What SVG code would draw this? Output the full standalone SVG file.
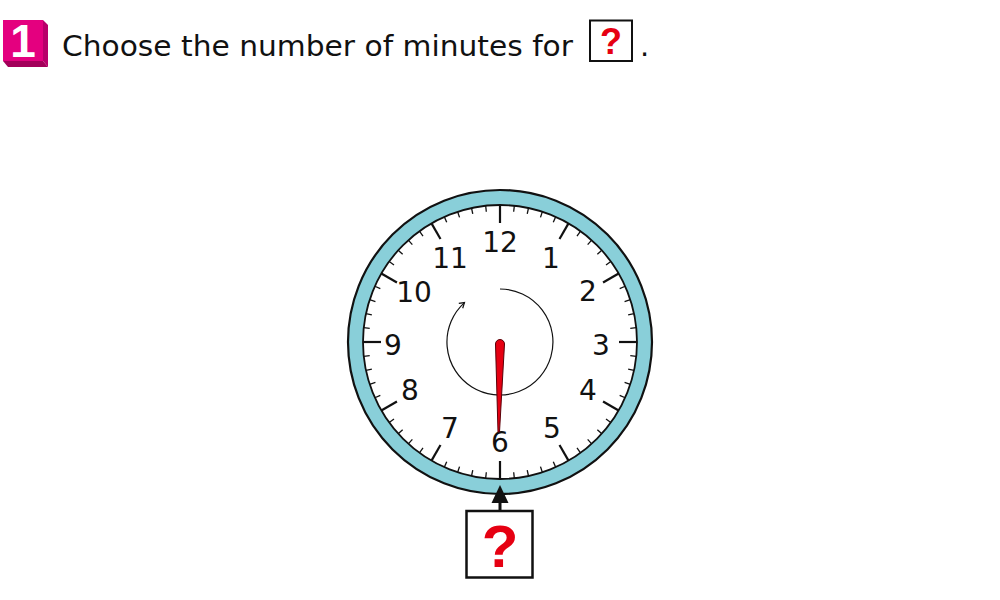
<svg xmlns="http://www.w3.org/2000/svg" xmlns:xlink="http://www.w3.org/1999/xlink" width="1000" height="600" viewBox="0 0 1000 600">
<style>
.t{font-family:"DejaVu Sans","Liberation Sans",sans-serif;fill:#111}
.num{font-family:"DejaVu Sans","Liberation Sans",sans-serif;font-size:28px;fill:#111;text-anchor:middle}
.q{font-family:"Liberation Sans",Arial,sans-serif;font-weight:bold;fill:#e60012;text-anchor:middle}
.box{fill:#fff;stroke:#111;stroke-width:2.5}
</style>
<defs>
<line id="mt" x1="500" y1="205" x2="500" y2="211" stroke="#111" stroke-width="1.3"/>
<line id="ht" x1="500" y1="205" x2="500" y2="223" stroke="#111" stroke-width="2.2"/>
</defs>
<rect width="1000" height="600" fill="#fff"/>
<g id="header">
<polygon points="3,61 43,61 48,67 8,67" fill="#a3005a"/>
<polygon points="43,20 48,25 48,67 43,61" fill="#b8006a"/>
<rect x="3" y="20" width="40" height="41" fill="#e4007f"/>
<text x="23" y="57" font-family="Liberation Sans,Arial,sans-serif" font-weight="bold" font-size="46" fill="#fff" text-anchor="middle">1</text>
<text class="t" x="62" y="56" font-size="29" textLength="511" lengthAdjust="spacingAndGlyphs">Choose the number of minutes for</text>
<rect x="590" y="20.5" width="42" height="40.5" fill="#fff" stroke="#111" stroke-width="2"/>
<text class="q" x="611" y="54" font-size="36">?</text>
<text class="t" x="640" y="56" font-size="29">.</text>
</g>
<g id="clock">
<circle cx="500" cy="342" r="152" fill="#89cfd9" stroke="#111" stroke-width="2.2"/>
<circle cx="500" cy="342" r="137" fill="#fff" stroke="#111" stroke-width="1.8"/>
<g id="ticks">
<use xlink:href="#ht" transform="rotate(0 500 342)"/>
<use xlink:href="#mt" transform="rotate(6 500 342)"/>
<use xlink:href="#mt" transform="rotate(12 500 342)"/>
<use xlink:href="#mt" transform="rotate(18 500 342)"/>
<use xlink:href="#mt" transform="rotate(24 500 342)"/>
<use xlink:href="#ht" transform="rotate(30 500 342)"/>
<use xlink:href="#mt" transform="rotate(36 500 342)"/>
<use xlink:href="#mt" transform="rotate(42 500 342)"/>
<use xlink:href="#mt" transform="rotate(48 500 342)"/>
<use xlink:href="#mt" transform="rotate(54 500 342)"/>
<use xlink:href="#ht" transform="rotate(60 500 342)"/>
<use xlink:href="#mt" transform="rotate(66 500 342)"/>
<use xlink:href="#mt" transform="rotate(72 500 342)"/>
<use xlink:href="#mt" transform="rotate(78 500 342)"/>
<use xlink:href="#mt" transform="rotate(84 500 342)"/>
<use xlink:href="#ht" transform="rotate(90 500 342)"/>
<use xlink:href="#mt" transform="rotate(96 500 342)"/>
<use xlink:href="#mt" transform="rotate(102 500 342)"/>
<use xlink:href="#mt" transform="rotate(108 500 342)"/>
<use xlink:href="#mt" transform="rotate(114 500 342)"/>
<use xlink:href="#ht" transform="rotate(120 500 342)"/>
<use xlink:href="#mt" transform="rotate(126 500 342)"/>
<use xlink:href="#mt" transform="rotate(132 500 342)"/>
<use xlink:href="#mt" transform="rotate(138 500 342)"/>
<use xlink:href="#mt" transform="rotate(144 500 342)"/>
<use xlink:href="#ht" transform="rotate(150 500 342)"/>
<use xlink:href="#mt" transform="rotate(156 500 342)"/>
<use xlink:href="#mt" transform="rotate(162 500 342)"/>
<use xlink:href="#mt" transform="rotate(168 500 342)"/>
<use xlink:href="#mt" transform="rotate(174 500 342)"/>
<use xlink:href="#ht" transform="rotate(180 500 342)"/>
<use xlink:href="#mt" transform="rotate(186 500 342)"/>
<use xlink:href="#mt" transform="rotate(192 500 342)"/>
<use xlink:href="#mt" transform="rotate(198 500 342)"/>
<use xlink:href="#mt" transform="rotate(204 500 342)"/>
<use xlink:href="#ht" transform="rotate(210 500 342)"/>
<use xlink:href="#mt" transform="rotate(216 500 342)"/>
<use xlink:href="#mt" transform="rotate(222 500 342)"/>
<use xlink:href="#mt" transform="rotate(228 500 342)"/>
<use xlink:href="#mt" transform="rotate(234 500 342)"/>
<use xlink:href="#ht" transform="rotate(240 500 342)"/>
<use xlink:href="#mt" transform="rotate(246 500 342)"/>
<use xlink:href="#mt" transform="rotate(252 500 342)"/>
<use xlink:href="#mt" transform="rotate(258 500 342)"/>
<use xlink:href="#mt" transform="rotate(264 500 342)"/>
<use xlink:href="#ht" transform="rotate(270 500 342)"/>
<use xlink:href="#mt" transform="rotate(276 500 342)"/>
<use xlink:href="#mt" transform="rotate(282 500 342)"/>
<use xlink:href="#mt" transform="rotate(288 500 342)"/>
<use xlink:href="#mt" transform="rotate(294 500 342)"/>
<use xlink:href="#ht" transform="rotate(300 500 342)"/>
<use xlink:href="#mt" transform="rotate(306 500 342)"/>
<use xlink:href="#mt" transform="rotate(312 500 342)"/>
<use xlink:href="#mt" transform="rotate(318 500 342)"/>
<use xlink:href="#mt" transform="rotate(324 500 342)"/>
<use xlink:href="#ht" transform="rotate(330 500 342)"/>
<use xlink:href="#mt" transform="rotate(336 500 342)"/>
<use xlink:href="#mt" transform="rotate(342 500 342)"/>
<use xlink:href="#mt" transform="rotate(348 500 342)"/>
<use xlink:href="#mt" transform="rotate(354 500 342)"/>
</g>
<g id="numbers">
<text class="num" x="500" y="252">12</text>
<text class="num" x="551" y="268">1</text>
<text class="num" x="588" y="301">2</text>
<text class="num" x="601" y="355">3</text>
<text class="num" x="588" y="400">4</text>
<text class="num" x="552" y="438">5</text>
<text class="num" x="500" y="452">6</text>
<text class="num" x="450" y="438">7</text>
<text class="num" x="410" y="400">8</text>
<text class="num" x="393" y="355">9</text>
<text class="num" x="414" y="302">10</text>
<text class="num" x="450" y="268">11</text>
</g>
<g id="rotation">
<path d="M500,289 A53,53 0 1 1 464.5,302.6" fill="none" stroke="#111" stroke-width="1.2"/>
<polyline points="458.8,303.4 464.5,302.6 462.7,308.2" fill="none" stroke="#111" stroke-width="1.2"/>
</g>
<path id="hand" d="M495.5,344 L498,432 L499.5,432 L504.5,344 A4.5,4.5 0 0 0 495.5,344 Z" fill="#e60012" stroke="#5a0008" stroke-width="1"/>
</g>
<g id="connectors">
<line x1="500" y1="511" x2="500" y2="500" stroke="#111" stroke-width="3"/>
<polygon points="500,485 508.5,503 491.5,503" fill="#111"/>
</g>
<g id="answer-box">
<rect class="box" x="466.5" y="511" width="66" height="66.5"/>
<text class="q" x="500" y="567" font-size="60">?</text>
</g>
</svg>
